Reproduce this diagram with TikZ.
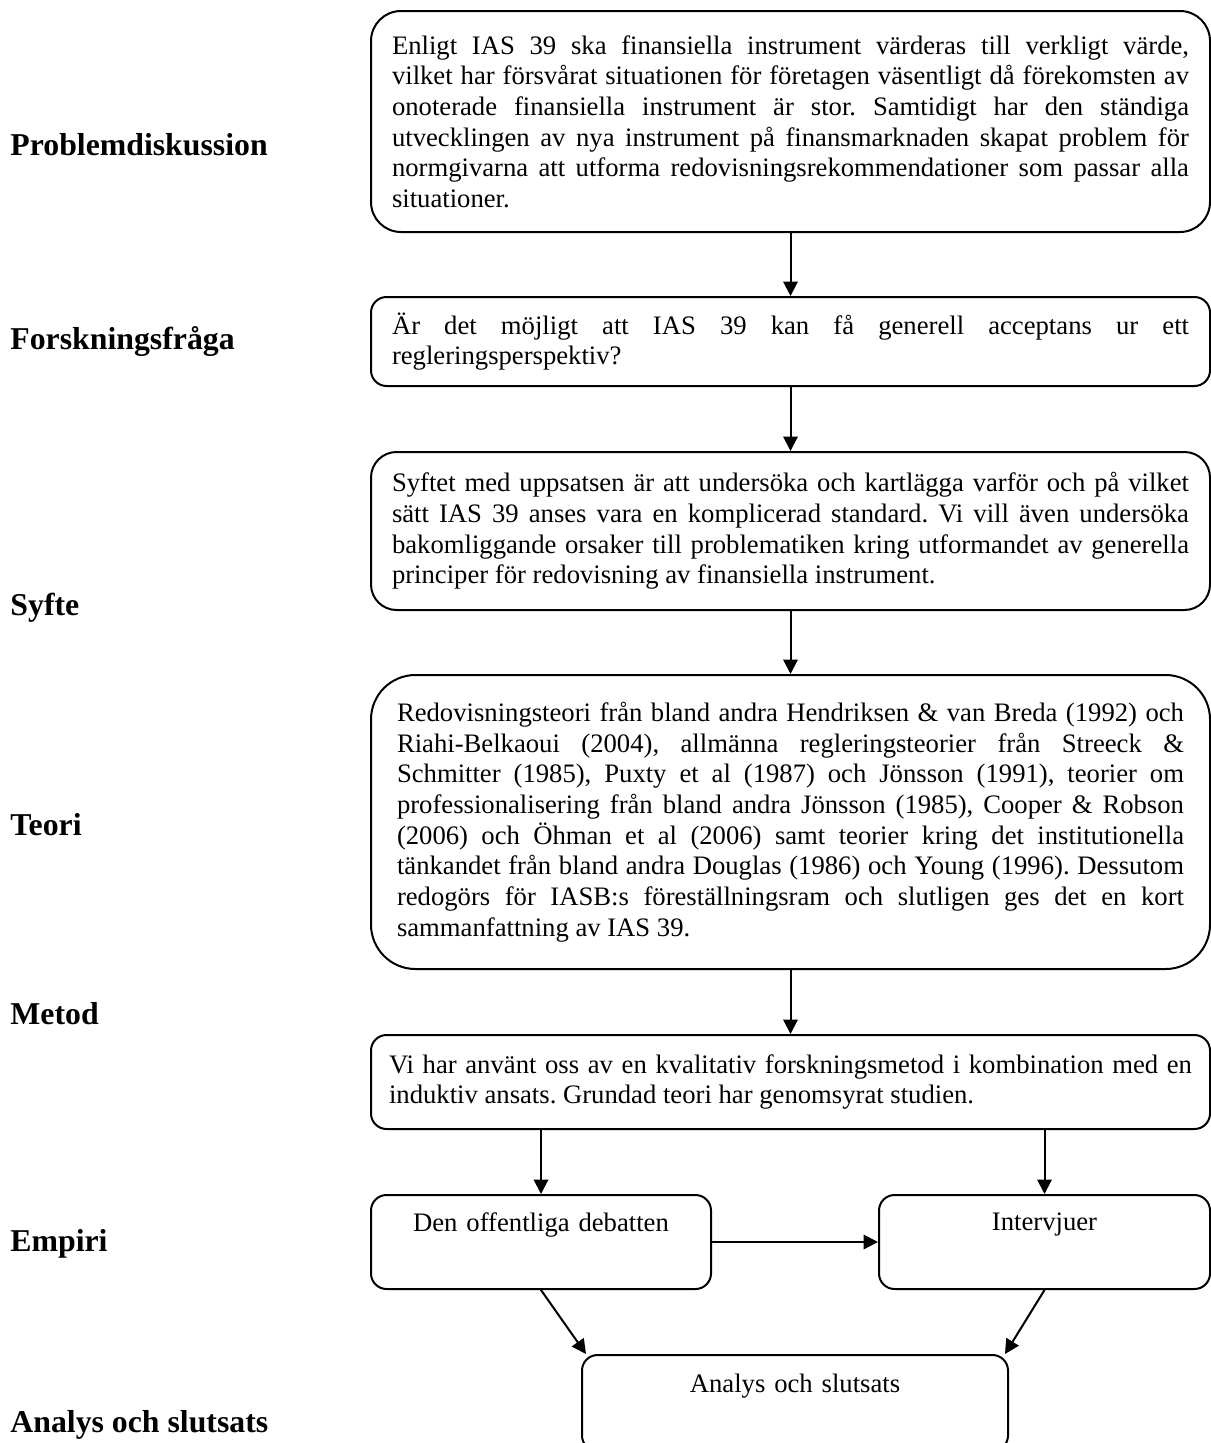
\documentclass[tikz,border=0pt]{standalone}
\usepackage{fontspec}
\setmainfont{Liberation Serif}
\usetikzlibrary{arrows.meta}
\newlength\px
\setlength\px{0.45pt}
\hyphenpenalty=10000
\exhyphenpenalty=10000
\frenchspacing
\begin{document}
\begin{tikzpicture}[x=0.45pt,y=-0.45pt,line join=round,line cap=round,
	>={Triangle[length=6.5pt,width=6.5pt]},
	box/.style={draw,line width=0.9pt,align=justify,inner xsep=21\px,inner ysep=0pt,
		font=\fontsize{12}{13.8}\selectfont\frenchspacing},
	lbl/.style={anchor=west,inner sep=0pt,font=\fontsize{14.3}{16}\selectfont\bfseries},
	arr/.style={->,line width=0.9pt}]
	\useasboundingbox (0,0) rectangle (1211,1443);
	\clip (0,0) rectangle (1211,1443);
	\path(790.5,121.5)node[box,rounded corners=13.5pt,text width=797\px,minimum height=221\px](prob){Enligt IAS 39 ska finansiella instrument värderas till verkligt värde,\linebreak
		vilket har försvårat situationen för företagen väsentligt då förekomsten av\linebreak
		onoterade finansiella instrument är stor. Samtidigt har den ständiga\linebreak
		utvecklingen av nya instrument på finansmarknaden skapat problem för\linebreak
		normgivarna att utforma redovisningsrekommendationer som passar alla\linebreak
		situationer.}
	++(0,220)node[box,rounded corners=7pt,text width=797\px,minimum height=89\px](fraga){Är det möjligt att IAS 39 kan få generell acceptans ur ett\linebreak
		regleringsperspektiv?}
	++(0,189.5)node[box,rounded corners=11.5pt,text width=797\px,minimum height=158\px](syfte){Syftet med uppsatsen är att undersöka och kartlägga varför och på vilket\linebreak
		sätt IAS 39 anses vara en komplicerad standard. Vi vill även undersöka\linebreak
		bakomliggande orsaker till problematiken kring utformandet av generella\linebreak
		principer för redovisning av finansiella instrument.}
	++(0,291)node[box,rounded corners=20pt,text width=787\px,inner xsep=26\px,minimum height=294\px](teori){Redovisningsteori från bland andra Hendriksen \& van Breda (1992) och\linebreak
		Riahi-Belkaoui (2004), allmänna regleringsteorier från Streeck \&\linebreak
		Schmitter (1985), Puxty et al (1987) och Jönsson (1991), teorier om\linebreak
		professionalisering från bland andra Jönsson (1985), Cooper \& Robson\linebreak
		(2006) och Öhman et al (2006) samt teorier kring det institutionella\linebreak
		tänkandet från bland andra Douglas (1986) och Young (1996). Dessutom\linebreak
		redogörs för IASB:s föreställningsram och slutligen ges det en kort\linebreak
		sammanfattning av IAS 39.}
	++(0,260)node[box,rounded corners=7pt,text width=803\px,inner xsep=18\px,minimum height=94\px](metod){Vi har använt oss av en kvalitativ forskningsmetod i kombination med en\linebreak
		induktiv ansats. Grundad teori har genomsyrat studien.};
	\path(541,1242)node[box,align=center,rounded corners=7pt,text width=300\px,inner xsep=20\px,minimum height=94\px](debatt){Den offentliga debatten\\ \strut}
	(1044.5,1242)node[box,align=center,rounded corners=7pt,text width=291\px,inner xsep=20\px,minimum height=94\px](intervju){Intervjuer\\ \strut};
	\path(795,1403)node[box,align=center,rounded corners=7pt,text width=386\px,inner xsep=20\px,minimum height=96\px](analys){Analys och slutsats\\ \strut};
	\path(10,145)node[lbl](lprob){Problemdiskussion}
	(10,341)node[lbl](lfraga){Forskningsfråga}
	(10,608)node[lbl](lsyfte){Syfte}
	(10,825)node[lbl](lteori){Teori}
	(10,1014)node[lbl](lmetod){Metod}
	(10,1244)node[lbl](lempiri){Empiri}
	(10,1425)node[lbl](lanalys){Analys och slutsats};
	\draw[arr](prob)--(fraga);
	\draw[arr](fraga)--(syfte);
	\draw[arr](syfte)--(teori);
	\draw[arr](teori)--(metod);
	\draw[arr](metod.south -| debatt.north)--(debatt.north);
	\draw[arr](metod.south -| intervju.north)--(intervju.north);
	\draw[arr](debatt.east)--(intervju.west);
	\draw[arr](debatt.south)--([xshift=5\px]analys.north west);
	\draw[arr](intervju.south)--([xshift=-4\px]analys.north east);
\end{tikzpicture}
\end{document}
